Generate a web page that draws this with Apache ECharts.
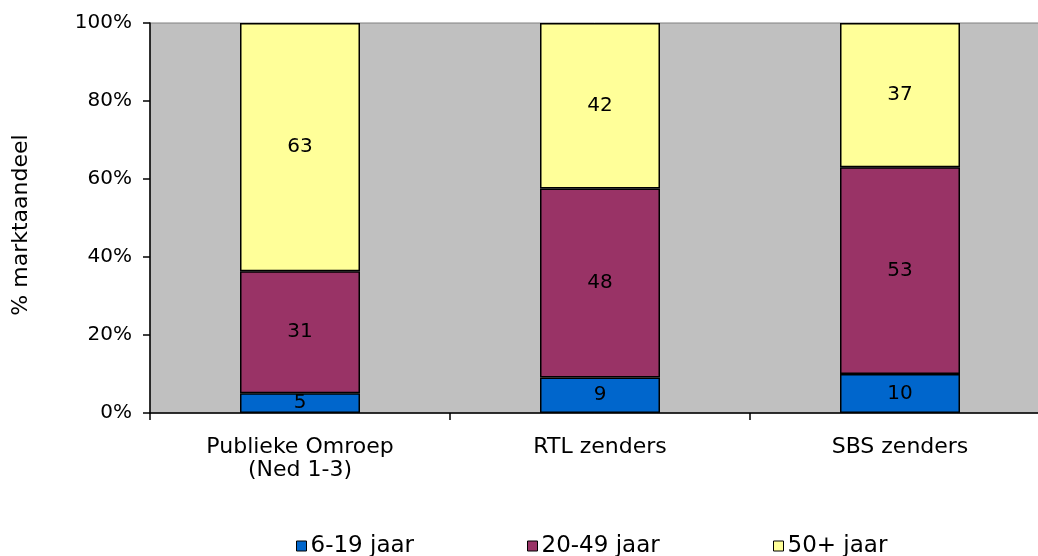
<!DOCTYPE html>
<html>
<head>
<meta charset="utf-8">
<script src="https://cdn.jsdelivr.net/npm/echarts@6/dist/echarts.min.js"></script>
<style>
  html, body { margin: 0; padding: 0; background: #fff; }
  #chart { width: 1038px; height: 556px; }
</style>
</head>
<body>
<div id="chart"></div>
<script>
// zenders en leeftijdsgroepen
const categories = ['Publieke Omroep\n(Ned 1-3)', 'RTL zenders', 'SBS zenders'];
const groups = ['6-19 jaar', '20-49 jaar', '50+ jaar'];
const jong = [5, 9, 10];
const midden = [31, 48, 53];
const oud = [63, 42, 37];
const yTicks = ['0%', '20%', '40%', '60%', '80%', '100%'];

const colors = ['#0066CC', '#993366', '#FFFF99'];
const font = 'DejaVu Sans, Verdana, sans-serif';

// 100% gestapeld: elke kolom schalen naar zijn totaal
const totals = categories.map((c, i) => jong[i] + midden[i] + oud[i]);
const toPct = arr => arr.map((v, i) => ({ value: v / totals[i] * 100, raw: v }));

const chart = echarts.init(document.getElementById('chart'), null, { renderer: 'canvas' });

const series = [jong, midden, oud].map((arr, k) => ({
  name: groups[k],
  type: 'bar',
  stack: 'totaal',
  barWidth: '40%',
  data: toPct(arr),
  itemStyle: { color: colors[k], borderColor: '#000', borderWidth: 1.5 },
  label: {
    show: true,
    position: 'inside',
    color: '#000',
    fontFamily: font,
    fontSize: 20,
    formatter: p => p.data.raw
  }
}));

const legendLefts = [296, 527, 773];

chart.setOption({
  animation: false,
  grid: {
    left: 150, top: 23, right: -12, bottom: 143,
    outerBoundsMode: 'none',
    containLabel: false,
    show: true, backgroundColor: '#C0C0C0', borderColor: '#808080', borderWidth: 1
  },
  legend: groups.map((g, k) => ({
    data: [g],
    left: legendLefts[k],
    top: 534,
    padding: 0,
    icon: 'rect',
    itemWidth: 10,
    itemHeight: 10,
    itemGap: 4,
    itemStyle: { borderColor: '#000', borderWidth: 1 },
    textStyle: { fontFamily: font, fontSize: 23, color: '#000', lineHeight: 24, padding: [0, 0, 0, -1] }
  })),
  xAxis: {
    type: 'category',
    data: categories,
    axisLine: { lineStyle: { color: '#000', width: 1.5 } },
    axisTick: { show: true, length: 7, lineStyle: { color: '#000', width: 1.5 } },
    axisLabel: { fontFamily: font, fontSize: 22, color: '#000', margin: 23, lineHeight: 23 }
  },
  yAxis: {
    type: 'value',
    min: 0, max: 100, interval: 20,
    name: '% marktaandeel',
    nameLocation: 'middle',
    nameGap: 118,
    nameRotate: 90,
    nameTextStyle: { fontFamily: font, fontSize: 22, color: '#000', padding: [0, 14, 0, 0] },
    axisLine: { show: true, lineStyle: { color: '#000', width: 1.5 } },
    axisTick: { show: true, length: 7, lineStyle: { color: '#000', width: 1.5 } },
    splitLine: { show: false },
    axisLabel: {
      fontFamily: font, fontSize: 20, color: '#000', margin: 18,
      formatter: v => yTicks[v / 20]
    }
  },
  series: series
});
</script>
</body>
</html>
